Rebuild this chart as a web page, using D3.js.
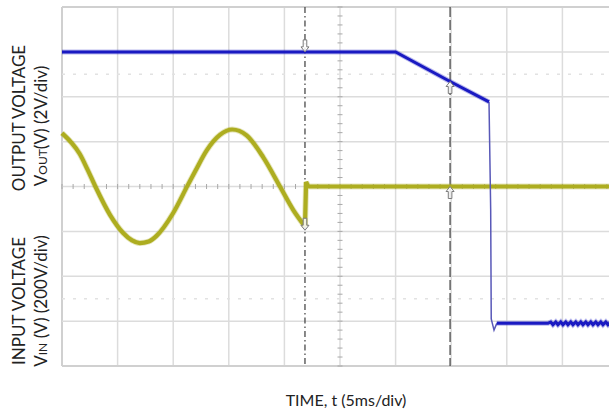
<!DOCTYPE html>
<html>
<head>
<meta charset="utf-8">
<script src="https://cdn.jsdelivr.net/npm/d3@7"></script>
<style>
  html, body { margin: 0; padding: 0; background: #fff; }
  svg { display: block; font-family: Lato, 'Open Sans', sans-serif; }
</style>
</head>
<body>
<svg id="chart"></svg>
<script>
let width = 609
let height = 415

// --------------------------------------------------------------
// Data (read off the scope shot)
// time in ms, 5ms/div, 10 divisions
const timeTicks = [0, 5, 10, 15, 20, 25, 30, 35, 40, 45, 50]
const divTicks = [-4, -3, -2, -1, 0, 1, 2, 3, 4]
const refLevels = [-2.5, 2.5] // faint dotted reference levels (div)

// output voltage, V (2V/div)
const voutHoldTime = [0, 10, 20, 30.0, 34.9, 38.4]
const voutHoldVolts = [12.0, 12.0, 12.0, 12.0, 10.68, 9.77]
const voutDropTime = [38.4, 38.55, 38.6, 38.75, 38.85, 39.1]
const voutDropVolts = [9.77, 5.0, 0.1, -0.2, -0.4, -0.1]
const voutLowTime = [39.1, 41.0, 43.7, 43.95, 44.15, 44.4, 44.6, 44.85, 45.05, 45.3,
  45.5, 45.75, 45.95, 46.2, 46.4, 46.65, 46.85, 47.1, 47.3, 47.55, 47.75, 48.0,
  48.2, 48.45, 48.65, 48.9, 49.1, 49.35, 49.55, 49.8, 50.0]
const voutLowVolts = [-0.1, -0.1, -0.1, -0.04, -0.16, -0.04, -0.16, -0.04, -0.16, -0.04,
  -0.16, -0.04, -0.16, -0.04, -0.16, -0.04, -0.16, -0.04, -0.16, -0.04, -0.16, -0.04,
  -0.16, -0.04, -0.16, -0.04, -0.16, -0.04, -0.16, -0.04, -0.16]

// input voltage, V (200V/div)
const vinWaveTime = [0, 0.8, 1.6, 2.3, 3.0, 4.3, 5.5, 6.3, 7.0, 7.8, 8.5, 10.0, 11.3,
  12.0, 13.0, 14.2, 15.3, 16.6, 18.1, 19.6, 20.8, 21.85]
const vinWaveVolts = [238, 198, 145, 75, 0, -125, -207, -240, -252, -245, -220, -118, 5,
  70, 160, 230, 254, 228, 130, 0, -105, -178]
const vinOffTime = [21.85, 21.95, 22.15, 30, 40, 50]
const vinOffVolts = [-178, 20, 0, 0, 0, 0]

// cursors
const cursorTime = [21.85, 34.9]
const cursorDash = ['6,3,1.5,3', '10,3']
const markers = [
  { t: 21.85, ch: 'out', v: 12.0, dir: 1 },
  { t: 21.85, ch: 'in', v: -195, dir: 1 },
  { t: 34.9, ch: 'out', v: 10.68, dir: -1 },
  { t: 34.9, ch: 'in', v: 0, dir: -1 },
]

// --------------------------------------------------------------
// Scales

const svg = d3.select('#chart').attr('width', width).attr('height', height)

const margin = { left: 62, top: 7, right: 618, bottom: 366 }

const x = d3.scaleLinear().domain([0, 50]).range([margin.left, margin.right])
const yDiv = d3.scaleLinear().domain([-4, 4]).range([margin.bottom, margin.top])
const yOut = d3.scaleLinear().domain([-2, 14]).range([margin.bottom, margin.top])
const yIn = d3.scaleLinear().domain([-800, 800]).range([margin.bottom, margin.top])

// --------------------------------------------------------------
// Grid

const grid = svg.append('g').attr('class', 'grid')

grid
  .selectAll('line.v')
  .data(timeTicks)
  .join('line')
  .attr('class', 'v')
  .attr('x1', (d) => x(d))
  .attr('x2', (d) => x(d))
  .attr('y1', yDiv(4))
  .attr('y2', yDiv(-4))
  .attr('stroke', (d) => (d === 0 ? '#d0d0d0' : '#dcdcdc'))
  .attr('stroke-width', (d) => (d === 0 ? 2 : 1.5))

grid
  .selectAll('line.h')
  .data(divTicks)
  .join('line')
  .attr('class', 'h')
  .attr('x1', x(0))
  .attr('x2', x(50))
  .attr('y1', (d) => yDiv(d))
  .attr('y2', (d) => yDiv(d))
  .attr('stroke', (d) => (Math.abs(d) === 4 ? '#d0d0d0' : '#dcdcdc'))
  .attr('stroke-width', (d) => (Math.abs(d) === 4 ? 2 : 1.5))

grid
  .selectAll('line.ref')
  .data(refLevels)
  .join('line')
  .attr('class', 'ref')
  .attr('x1', x(0))
  .attr('x2', x(50))
  .attr('y1', (d) => yDiv(d))
  .attr('y2', (d) => yDiv(d))
  .attr('stroke', '#e2e2e2')
  .attr('stroke-width', 1.5)
  .attr('stroke-dasharray', '3,8')

// minor ticks on the centre lines (5 per division)
const minorX = d3.range(0, 50.01, 1)
const minorY = d3.range(-4, 4.01, 0.2)

grid
  .selectAll('line.tx')
  .data(minorX)
  .join('line')
  .attr('class', 'tx')
  .attr('x1', (d) => x(d))
  .attr('x2', (d) => x(d))
  .attr('y1', yDiv(0) - 2.5)
  .attr('y2', yDiv(0) + 2.5)
  .attr('stroke', '#a8a8a8')
  .attr('stroke-width', 1)

grid
  .selectAll('line.ty')
  .data(minorY)
  .join('line')
  .attr('class', 'ty')
  .attr('x1', x(25) - 2.5)
  .attr('x2', x(25) + 2.5)
  .attr('y1', (d) => yDiv(d))
  .attr('y2', (d) => yDiv(d))
  .attr('stroke', '#a8a8a8')
  .attr('stroke-width', 1)

// --------------------------------------------------------------
// Cursors

svg
  .append('g')
  .selectAll('line')
  .data(cursorTime)
  .join('line')
  .attr('x1', (d) => x(d))
  .attr('x2', (d) => x(d))
  .attr('y1', yDiv(4))
  .attr('y2', yDiv(-4))
  .attr('stroke', '#4a4a4a')
  .attr('stroke-width', 1.3)
  .attr('stroke-dasharray', (d, i) => cursorDash[i])

// --------------------------------------------------------------
// Traces

const zip = (t, v) => t.map((d, i) => [d, v[i]])

const lineOut = d3.line().x((d) => x(d[0])).y((d) => yOut(d[1]))
const lineIn = d3
  .line()
  .x((d) => x(d[0]))
  .y((d) => yIn(d[1]))
  .curve(d3.curveMonotoneX)
const lineInLin = d3.line().x((d) => x(d[0])).y((d) => yIn(d[1]))

const traces = svg.append('g').attr('class', 'traces').attr('fill', 'none')

const yellow = '#adad20'
const blue = '#1a1ac2'

// input voltage
const vinWave = zip(vinWaveTime, vinWaveVolts)
const vinOff = zip(vinOffTime, vinOffVolts)
traces.append('path').attr('d', lineIn(vinWave)).attr('stroke', yellow)
  .attr('stroke-width', 6).attr('stroke-opacity', 0.3)
traces.append('path').attr('d', lineIn(vinWave)).attr('stroke', yellow)
  .attr('stroke-width', 4.2)
traces.append('path').attr('d', lineInLin(vinOff)).attr('stroke', yellow)
  .attr('stroke-width', 6).attr('stroke-opacity', 0.3)
traces.append('path').attr('d', lineInLin(vinOff)).attr('stroke', yellow)
  .attr('stroke-width', 4.2)

// output voltage
const voutHold = zip(voutHoldTime, voutHoldVolts)
const voutDrop = zip(voutDropTime, voutDropVolts)
const voutLow = zip(voutLowTime, voutLowVolts)

traces.append('path').attr('d', lineOut(voutDrop)).attr('stroke', '#5858b8')
  .attr('stroke-width', 1.5)
;[voutHold, voutLow].forEach((seg) => {
  traces.append('path').attr('d', lineOut(seg)).attr('stroke', blue)
    .attr('stroke-width', 5).attr('stroke-opacity', 0.3)
  traces.append('path').attr('d', lineOut(seg)).attr('stroke', blue)
    .attr('stroke-width', 3)
})

// --------------------------------------------------------------
// Cursor markers (little arrows)

const arrow = 'M0,0 L-4,-5 L-1.8,-5 L-1.8,-12 L1.8,-12 L1.8,-5 L4,-5 Z'

svg
  .append('g')
  .selectAll('path')
  .data(markers)
  .join('path')
  .attr('d', arrow)
  .attr('transform', (d) => {
    let yy = d.ch === 'out' ? yOut(d.v) : yIn(d.v)
    return `translate(${x(d.t)},${yy}) scale(1,${d.dir})`
  })
  .attr('fill', '#fff')
  .attr('fill-opacity', 0.85)
  .attr('stroke', '#7a7a7a')
  .attr('stroke-width', 1)

// --------------------------------------------------------------
// Labels

const labels = svg.append('g').attr('fill', '#222')

labels
  .append('text')
  .attr('transform', 'translate(25,118) rotate(-90)')
  .attr('text-anchor', 'middle')
  .style('font-size', '17px')
  .text('OUTPUT VOLTAGE')

const l2 = labels
  .append('text')
  .attr('transform', 'translate(47,126) rotate(-90)')
  .attr('text-anchor', 'middle')
  .style('font-size', '17px')
l2.append('tspan').text('V')
l2.append('tspan').style('font-size', '12px').text('OUT')
l2.append('tspan').text('(V) (2V/div)')

labels
  .append('text')
  .attr('transform', 'translate(25,301) rotate(-90)')
  .attr('text-anchor', 'middle')
  .style('font-size', '17px')
  .text('INPUT VOLTAGE')

const l4 = labels
  .append('text')
  .attr('transform', 'translate(47,301) rotate(-90)')
  .attr('text-anchor', 'middle')
  .style('font-size', '17px')
l4.append('tspan').text('V')
l4.append('tspan').style('font-size', '12px').text('IN')
l4.append('tspan').text(' (V) (200V/div)')

labels
  .append('text')
  .attr('x', 346)
  .attr('y', 406)
  .attr('text-anchor', 'middle')
  .style('font-size', '16px')
  .text('TIME, t (5ms/div)')
</script>
</body>
</html>
